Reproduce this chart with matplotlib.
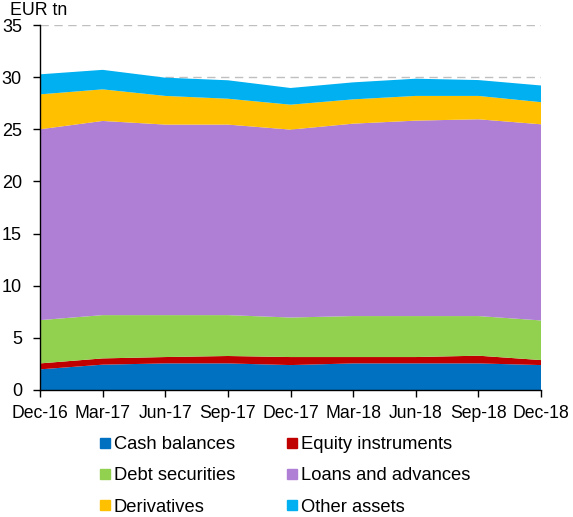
import numpy as np
import matplotlib.pyplot as plt
from matplotlib.lines import Line2D

plt.rcParams['font.family'] = ['Liberation Sans', 'DejaVu Sans']

# Datos (EUR tn)
quarters = ['Dec-16', 'Mar-17', 'Jun-17', 'Sep-17', 'Dec-17',
            'Mar-18', 'Jun-18', 'Sep-18', 'Dec-18']
cash = [1.98, 2.43, 2.55, 2.55, 2.39, 2.55, 2.55, 2.55, 2.39]
equity = [0.57, 0.60, 0.61, 0.71, 0.77, 0.61, 0.61, 0.74, 0.48]
debt = [4.15, 4.15, 4.02, 3.92, 3.79, 3.93, 3.93, 3.80, 3.80]
loans = [18.30, 18.62, 18.27, 18.27, 18.02, 18.45, 18.74, 18.87, 18.81]
derivatives = [3.35, 3.03, 2.75, 2.48, 2.39, 2.33, 2.37, 2.24, 2.12]
other = [1.92, 1.87, 1.75, 1.77, 1.60, 1.63, 1.65, 1.52, 1.60]

names = ['Cash balances', 'Equity instruments', 'Debt securities',
         'Loans and advances', 'Derivatives', 'Other assets']
colors = ['#0070C0', '#C00000', '#92D050', '#AF7FD5', '#FFC000', '#00B0F0']

x = np.arange(len(quarters))

fig = plt.figure(figsize=(5.73, 5.17), dpi=100)
ax = fig.add_axes([40 / 573, 127 / 517, 501 / 573, 365 / 517])

ax.stackplot(x, cash, equity, debt, loans, derivatives, other,
             colors=colors, linewidth=0)

# Ejes y rejilla
ax.set_xlim(0, 8)
ax.set_ylim(0, 35)
ax.set_yticks(range(0, 36, 5))
ax.set_xticks(x)
ax.set_xticklabels(quarters, fontsize=12.7)
ax.tick_params(axis='y', labelsize=13, length=5, pad=8, width=1)
ax.tick_params(axis='x', length=5, pad=6, width=1)
ax.set_axisbelow(True)
ax.yaxis.grid(True, linestyle=(0, (6, 4)), color='#BFBFBF', linewidth=1)
for s in ['top', 'right']:
    ax.spines[s].set_visible(False)
for s in ['left', 'bottom']:
    ax.spines[s].set_color('black')
    ax.spines[s].set_linewidth(1)

fig.text(10 / 573, 1 - 2 / 517, 'EUR tn', fontsize=12.8, va='top', ha='left')

# Leyenda (dos columnas, llenado por columna)
order = [0, 2, 4, 1, 3, 5]
handles = [Line2D([], [], marker='s', linestyle='none', markersize=7,
                  markerfacecolor=colors[i], markeredgecolor=colors[i])
           for i in order]
labels = [names[i] for i in order]
fig.legend(handles, labels, ncol=2, loc='center',
           bbox_to_anchor=(285 / 573, 1 - 476 / 517), frameon=False,
           fontsize=13.2, handlelength=0.6, handletextpad=0.2,
           columnspacing=2.8, labelspacing=0.78)

plt.savefig('out.png', dpi=100)
